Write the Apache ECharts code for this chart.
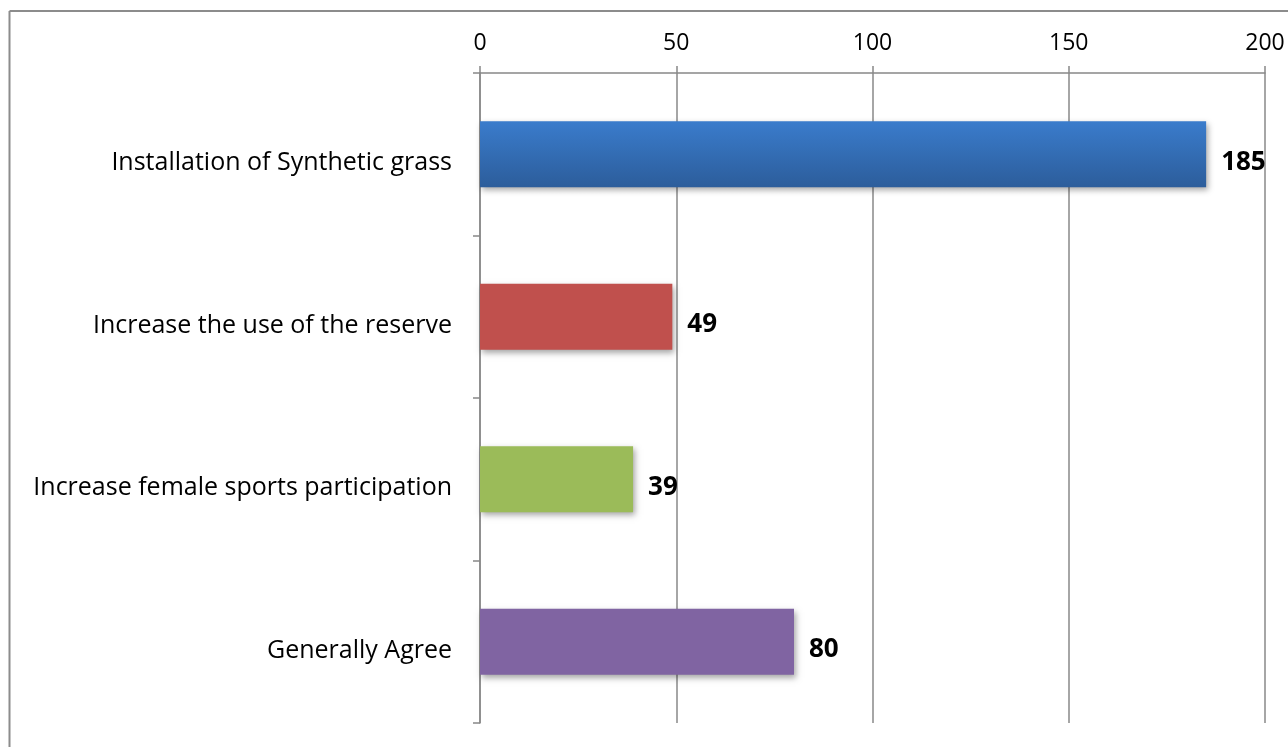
<!DOCTYPE html>
<html><head><meta charset="utf-8">
<script src="https://cdn.jsdelivr.net/npm/echarts@6/dist/echarts.min.js"></script>
<style>html,body{margin:0;padding:0;background:#fff}#c{width:1288px;height:747px}</style>
</head><body><div id="c"></div>
<script>
const categories = ['Installation of Synthetic grass','Increase the use of the reserve','Increase female sports participation','Generally Agree'];
const values = [185, 49, 39, 80];
const axisTicks = [0, 50, 100, 150, 200];
const colors = [
  new echarts.graphic.LinearGradient(0,0,0,1,[{offset:0,color:'#3a7ccc'},{offset:1,color:'#2c5d9b'}]),
  '#c0504d','#9bbb59','#8064a2'
];
const chart = echarts.init(document.getElementById('c'));
const FONT = '"Open Sans", "Liberation Sans", sans-serif';
chart.setOption({
  animation:false,
  backgroundColor:'#fff',
  graphic:[
    {type:'line',shape:{x1:9.5,y1:11,x2:1288,y2:11},style:{stroke:'#8c8c8c',lineWidth:2}},
    {type:'line',shape:{x1:9.5,y1:11,x2:9.5,y2:747},style:{stroke:'#8c8c8c',lineWidth:2}}
  ],
  grid:{left:480,right:23,top:73,bottom:24,containLabel:false},
  xAxis:{type:'value',position:'top',min:axisTicks[0],max:axisTicks[axisTicks.length-1],interval:50,
    axisLine:{show:true,lineStyle:{color:'#888',width:1.5}},
    axisTick:{show:true,length:7,lineStyle:{color:'#888',width:1.5}},
    axisLabel:{fontFamily:FONT,fontSize:23,color:'#000',margin:18},
    splitLine:{show:true,lineStyle:{color:'#888',width:1.5}}},
  yAxis:{type:'category',inverse:true,data:categories,
    axisLine:{show:true,lineStyle:{color:'#888',width:1.5}},
    axisTick:{show:true,length:7,lineStyle:{color:'#888',width:1.5}},
    axisLabel:{margin:28,formatter:v=>'{a|'+v+'}',
      rich:{a:{fontFamily:FONT,fontSize:25,color:'#000',padding:[18,0,0,0]}}}},
  series:[{type:'bar',barWidth:66,
    data:values.map((v,i)=>({value:v,itemStyle:{color:colors[i]}})),
    itemStyle:{shadowColor:'rgba(0,0,0,0.35)',shadowBlur:6,shadowOffsetX:2,shadowOffsetY:3},
    label:{show:true,position:'right',distance:15,offset:[0,8],fontFamily:FONT,fontSize:26,fontWeight:'bold',color:'#000'}}]
});
</script></body></html>
